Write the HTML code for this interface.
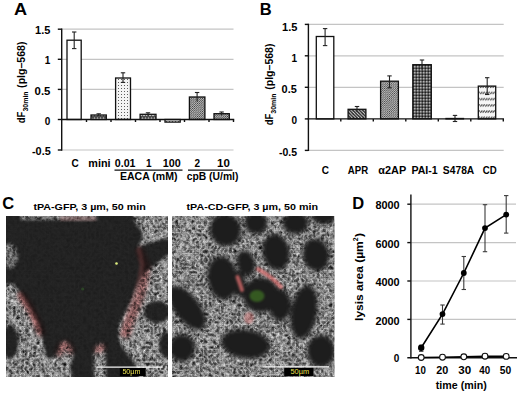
<!DOCTYPE html>
<html><head><meta charset="utf-8">
<style>
html,body{margin:0;padding:0;background:#fff;width:520px;height:394px;overflow:hidden}
svg{display:block;font-family:"Liberation Sans",sans-serif;font-weight:bold}
</style></head><body>
<svg width="520" height="394" viewBox="0 0 520 394">
<defs>
<pattern id="pDots" width="3" height="3" patternUnits="userSpaceOnUse">
<rect width="3" height="3" fill="#f4f4f4"/><rect x="1" y="1" width="1" height="1" fill="#5e5e5e"/>
</pattern>
<pattern id="pUp" width="2.15" height="2.15" patternUnits="userSpaceOnUse">
<rect width="2.15" height="2.15" fill="#f0f0f0"/><path d="M-0.5,2.65 L2.65,-0.5 M-1,1.1 L1.1,-1 M1.05,3.2 L3.2,1.05" stroke="#222" stroke-width="0.72"/>
</pattern>
<pattern id="pUpL" width="2.15" height="2.15" patternUnits="userSpaceOnUse">
<rect width="2.15" height="2.15" fill="#ededed"/><path d="M-0.5,2.65 L2.65,-0.5 M-1,1.1 L1.1,-1 M1.05,3.2 L3.2,1.05" stroke="#333" stroke-width="0.75"/>
</pattern>
<pattern id="pDown" width="3.3" height="3.3" patternUnits="userSpaceOnUse">
<rect width="3.3" height="3.3" fill="#1e1e1e"/><path d="M-0.5,-0.5 L3.8,3.8 M-1,2.3 L1,4.3 M2.3,-1 L4.3,1" stroke="#eee" stroke-width="0.9"/>
</pattern>
<pattern id="pGrid" width="3" height="3" patternUnits="userSpaceOnUse">
<rect width="3" height="3" fill="#555"/><rect x="0.2" y="0.2" width="1.2" height="1.2" fill="#e6e6e6"/><rect x="1.7" y="1.7" width="1.2" height="1.2" fill="#111"/>
</pattern>
<pattern id="pWave" y="3.85" width="2.5" height="6.2" patternUnits="userSpaceOnUse">
<rect width="2.5" height="6.2" fill="#f6f6f6"/><path d="M0.2,3.4 L2.2,1.3" stroke="#333" stroke-width="1.15" fill="none"/>
</pattern>
<pattern id="pZig" width="3" height="4.5" patternUnits="userSpaceOnUse">
<rect width="3" height="4.5" fill="#4a4a4a"/><path d="M0,3.2 L1.5,1.2 L3,3.2" stroke="#f0f0f0" stroke-width="1.1" fill="none"/>
</pattern>
</defs>
<rect width="520" height="394" fill="#fff"/>

<!-- ===== Panel A ===== -->
<text transform="translate(14.1,14.6) scale(1.1,1)" font-size="16.5">A</text>
<g stroke="#c4c4c4" stroke-width="1.2">
<line x1="62" y1="29.2" x2="233.5" y2="29.2"/>
<line x1="62" y1="59.3" x2="233.5" y2="59.3"/>
<line x1="62" y1="89.4" x2="233.5" y2="89.4"/>
<line x1="62" y1="150" x2="233.5" y2="150"/>
</g>
<g font-size="10" text-anchor="end">
<text x="35.13" y="33.8" text-anchor="start" textLength="15.30" lengthAdjust="spacingAndGlyphs">1.5</text>
<text x="44.79" y="63.9" text-anchor="start">1</text>
<text x="34.61" y="94.90" text-anchor="start" textLength="15.83" lengthAdjust="spacingAndGlyphs">0.5</text>
<text x="44.69" y="125.20" text-anchor="start">0</text>
<text x="31.97" y="155.40" text-anchor="start" textLength="18.76" lengthAdjust="spacingAndGlyphs">-0.5</text>
</g>
<!-- bars A -->
<g stroke="#111" stroke-width="1.3">
<rect x="67" y="40.2" width="14.2" height="79.3" fill="#fff"/>
<rect x="91" y="115" width="15.3" height="4.5" fill="url(#pZig)"/>
<rect x="115.6" y="78" width="14.9" height="41.5" fill="url(#pDots)"/>
<rect x="140.1" y="114.3" width="15.9" height="5.2" fill="url(#pZig)"/>
<rect x="165" y="119.5" width="15.2" height="2.6" fill="url(#pDots)"/>
<rect x="189.4" y="97" width="15.5" height="22.5" fill="url(#pUp)"/>
<rect x="214" y="113.7" width="15.3" height="5.8" fill="url(#pUp)"/>
</g>
<!-- error bars A -->
<g stroke="#222" stroke-width="1.1">
<line x1="74.2" y1="32" x2="74.2" y2="48.6"/><line x1="72" y1="32" x2="76.4" y2="32"/><line x1="72" y1="48.6" x2="76.4" y2="48.6"/>
<line x1="98.7" y1="113.8" x2="98.7" y2="116"/><line x1="96.5" y1="113.8" x2="100.9" y2="113.8"/>
<line x1="123" y1="72.8" x2="123" y2="82.4"/><line x1="120.8" y1="72.8" x2="125.2" y2="72.8"/><line x1="120.8" y1="82.4" x2="125.2" y2="82.4"/>
<line x1="148" y1="112.8" x2="148" y2="116"/><line x1="145.8" y1="112.8" x2="150.2" y2="112.8"/>
<line x1="197.1" y1="92.5" x2="197.1" y2="101.5"/><line x1="194.9" y1="92.5" x2="199.3" y2="92.5"/>
<line x1="221.6" y1="112" x2="221.6" y2="115.5"/><line x1="219.4" y1="112" x2="223.8" y2="112"/>
</g>
<!-- axes A -->
<g stroke="#111" stroke-width="1.4" fill="none">
<line x1="61.7" y1="28.5" x2="61.7" y2="150.7"/>
<line x1="57.8" y1="29.2" x2="61.7" y2="29.2"/>
<line x1="57.8" y1="59.3" x2="61.7" y2="59.3"/>
<line x1="57.8" y1="89.4" x2="61.7" y2="89.4"/>
<line x1="57.8" y1="119.5" x2="61.7" y2="119.5"/>
<line x1="57.8" y1="150" x2="61.7" y2="150"/>
<line x1="61" y1="119.5" x2="234.2" y2="119.5"/>
<path d="M86.5,119.5v2.5M111,119.5v2.5M135.5,119.5v2.5M160,119.5v2.5M184.5,119.5v2.5M209,119.5v2.5M233.5,119.5v2.5"/>
</g>
<g font-size="10">
<text x="71.40" y="166.5" text-anchor="start">C</text>
<text x="88.37" y="166.5" text-anchor="start" textLength="22.21" lengthAdjust="spacingAndGlyphs">mini</text>
<text x="114.75" y="166.5" text-anchor="start" textLength="20.75" lengthAdjust="spacingAndGlyphs">0.01</text>
<text x="146.05" y="166.5" text-anchor="start">1</text>
<text x="162.86" y="166.5" text-anchor="start" textLength="17.94" lengthAdjust="spacingAndGlyphs">100</text>
<text x="194.60" y="166.5" text-anchor="start">2</text>
<text x="217.10" y="166.5" text-anchor="start" textLength="12.79" lengthAdjust="spacingAndGlyphs">10</text>
<text x="119.95" y="179.5" text-anchor="start" textLength="57.61" lengthAdjust="spacingAndGlyphs">EACA (mM)</text>
<text x="186.70" y="179.5" text-anchor="start" textLength="51.70" lengthAdjust="spacingAndGlyphs">cpB (U/ml)</text>
</g>
<g stroke="#111" stroke-width="1.2">
<line x1="114.5" y1="170.2" x2="182.5" y2="170.2"/>
<line x1="188" y1="170.2" x2="232.5" y2="170.2"/>
</g>
<g transform="translate(24.8,0) rotate(-90)">
<text x="-123.3" y="0" font-size="10.9" textLength="11.6" lengthAdjust="spacingAndGlyphs">dF</text>
<text x="-111.6" y="3.2" font-size="7.6" textLength="20.2" lengthAdjust="spacingAndGlyphs">30min</text>
<text x="-87.9" y="0" font-size="10.9" textLength="46.4" lengthAdjust="spacingAndGlyphs">(plg–568)</text>
</g>

<!-- ===== Panel B ===== -->
<text x="259.8" y="14.6" font-size="16.5">B</text>
<g stroke="#c4c4c4" stroke-width="1.2">
<line x1="309" y1="24.4" x2="503.7" y2="24.4"/>
<line x1="309" y1="55.8" x2="503.7" y2="55.8"/>
<line x1="309" y1="87.3" x2="503.7" y2="87.3"/>
<line x1="309" y1="150.4" x2="503.7" y2="150.4"/>
</g>
<g font-size="10" text-anchor="end">
<text x="282.02" y="30.50" text-anchor="start" textLength="15.40" lengthAdjust="spacingAndGlyphs">1.5</text>
<text x="291.44" y="61.90" text-anchor="start">1</text>
<text x="281.63" y="92.7" text-anchor="start" textLength="15.19" lengthAdjust="spacingAndGlyphs">0.5</text>
<text x="291.39" y="124.2" text-anchor="start">0</text>
<text x="278.96" y="155.6" text-anchor="start" textLength="18.05" lengthAdjust="spacingAndGlyphs">-0.5</text>
</g>
<g stroke="#111" stroke-width="1.3">
<rect x="316.3" y="36.5" width="17.5" height="82.4" fill="#fff"/>
<rect x="348.1" y="109.3" width="17.8" height="9.6" fill="url(#pDown)"/>
<rect x="380.6" y="81.2" width="17.8" height="37.7" fill="url(#pUpL)"/>
<rect x="412.8" y="64.7" width="18.5" height="54.2" fill="url(#pGrid)"/>
<rect x="446" y="118.5" width="17.5" height="0.4" fill="#888"/>
<rect x="478.3" y="86.1" width="17.4" height="32.8" fill="url(#pWave)"/>
</g>
<g stroke="#222" stroke-width="1.1">
<line x1="325.1" y1="28.6" x2="325.1" y2="45.6"/><line x1="322.9" y1="28.6" x2="327.3" y2="28.6"/><line x1="322.9" y1="45.6" x2="327.3" y2="45.6"/>
<line x1="357" y1="106.5" x2="357" y2="112"/><line x1="354.8" y1="106.5" x2="359.2" y2="106.5"/>
<line x1="389.5" y1="75.9" x2="389.5" y2="87.8"/><line x1="387.3" y1="75.9" x2="391.7" y2="75.9"/><line x1="387.3" y1="87.8" x2="391.7" y2="87.8"/>
<line x1="422" y1="60" x2="422" y2="69.5"/><line x1="419.8" y1="60" x2="424.2" y2="60"/>
<line x1="455" y1="115.4" x2="455" y2="121.5"/><line x1="452.8" y1="115.4" x2="457.2" y2="115.4"/><line x1="452.8" y1="121.5" x2="457.2" y2="121.5"/>
<line x1="487.2" y1="77.7" x2="487.2" y2="94.5"/><line x1="485" y1="77.7" x2="489.4" y2="77.7"/><line x1="485" y1="94.5" x2="489.4" y2="94.5"/>
</g>
<g stroke="#111" stroke-width="1.4" fill="none">
<line x1="308.4" y1="23.7" x2="308.4" y2="151"/>
<line x1="304.8" y1="24.4" x2="308.4" y2="24.4"/>
<line x1="304.8" y1="55.8" x2="308.4" y2="55.8"/>
<line x1="304.8" y1="87.3" x2="308.4" y2="87.3"/>
<line x1="304.8" y1="118.9" x2="308.4" y2="118.9"/>
<line x1="304.8" y1="150.4" x2="308.4" y2="150.4"/>
<line x1="307.7" y1="118.9" x2="504" y2="118.9"/>
<path d="M340.8,118.9v2.5M373.3,118.9v2.5M405.8,118.9v2.5M438.3,118.9v2.5M470.8,118.9v2.5M503.3,118.9v2.5"/>
</g>
<g font-size="10">
<text x="321.70" y="173.9" text-anchor="start">C</text>
<text x="347.79" y="173.9" text-anchor="start" textLength="20.32" lengthAdjust="spacingAndGlyphs">APR</text>
<text x="378.30" y="173.9" text-anchor="start" textLength="27.90" lengthAdjust="spacingAndGlyphs">α2AP</text>
<text x="411.45" y="173.9" text-anchor="start" textLength="26.28" lengthAdjust="spacingAndGlyphs">PAI-1</text>
<text x="442.88" y="173.9" text-anchor="start" textLength="31.39" lengthAdjust="spacingAndGlyphs">S478A</text>
<text x="482.72" y="173.9" text-anchor="start" textLength="13.94" lengthAdjust="spacingAndGlyphs">CD</text>
</g>
<g transform="translate(272.6,0) rotate(-90)">
<text x="-125.3" y="0" font-size="10.9" textLength="11.6" lengthAdjust="spacingAndGlyphs">dF</text>
<text x="-113.7" y="3.2" font-size="7.6" textLength="20.2" lengthAdjust="spacingAndGlyphs">30min</text>
<text x="-89.8" y="0" font-size="10.9" textLength="46.3" lengthAdjust="spacingAndGlyphs">(plg–568)</text>
</g>

<!-- ===== Panel C ===== -->
<text x="2.3" y="208.5" font-size="16.5">C</text>
<text x="33.4" y="210.2" font-size="9.5" textLength="112.4" lengthAdjust="spacingAndGlyphs">tPA-GFP, 3 µm, 50 min</text>
<text x="186.5" y="210.2" font-size="9.5" textLength="131.5" lengthAdjust="spacingAndGlyphs">tPA-CD-GFP, 3 µm, 50 min</text>
<defs>
<filter id="nz" x="0" y="0" width="1" height="1" color-interpolation-filters="sRGB">
<feTurbulence type="fractalNoise" baseFrequency="0.3" numOctaves="2" seed="3" result="a"/>
<feColorMatrix in="a" type="matrix" values="1.3 0 0 0 -0.15  1.3 0 0 0 -0.15  1.3 0 0 0 -0.15  0 0 0 0 1" result="g1"/>
<feTurbulence type="turbulence" baseFrequency="0.24" numOctaves="2" seed="13" result="b"/>
<feColorMatrix in="b" type="matrix" values="-1.6 0 0 0 0.92  -1.6 0 0 0 0.92  -1.6 0 0 0 0.92  0 0 0 0 1" result="g2"/>
<feComposite in="g1" in2="g2" operator="arithmetic" k1="0" k2="0.5" k3="0.5" k4="0"/>
<feGaussianBlur stdDeviation="0.5"/>
</filter>
<filter id="nz2" x="0" y="0" width="1" height="1" color-interpolation-filters="sRGB">
<feTurbulence type="fractalNoise" baseFrequency="0.3" numOctaves="2" seed="7" result="a"/>
<feColorMatrix in="a" type="matrix" values="1.3 0 0 0 -0.15  1.3 0 0 0 -0.15  1.3 0 0 0 -0.15  0 0 0 0 1" result="g1"/>
<feTurbulence type="turbulence" baseFrequency="0.24" numOctaves="2" seed="17" result="b"/>
<feColorMatrix in="b" type="matrix" values="-1.6 0 0 0 0.92  -1.6 0 0 0 0.92  -1.6 0 0 0 0.92  0 0 0 0 1" result="g2"/>
<feComposite in="g1" in2="g2" operator="arithmetic" k1="0" k2="0.5" k3="0.5" k4="0"/>
<feGaussianBlur stdDeviation="0.5"/>
</filter>
<filter id="bl2" x="-20%" y="-20%" width="140%" height="140%"><feGaussianBlur stdDeviation="2.2"/></filter>
<filter id="bl1" x="-20%" y="-20%" width="140%" height="140%"><feGaussianBlur stdDeviation="1.2"/></filter>
<filter id="bl15" x="-20%" y="-20%" width="140%" height="140%"><feGaussianBlur stdDeviation="1.7"/></filter>
<clipPath id="cL"><rect x="6" y="216" width="162" height="161"/></clipPath>
<clipPath id="cR"><rect x="172" y="216" width="162.4" height="161"/></clipPath>
<mask id="mL" maskUnits="userSpaceOnUse" x="0" y="200" width="200" height="194">
<g fill="#fff" filter="url(#bl15)">
<polygon points="131.7,210 170,210 170,238.5 165.2,238.8 148.9,243 137.5,247.5 141.5,240.4 142.8,232.2 135.7,224.1"/>
<polygon points="170,254.5 165.2,256.8 155,264.5 143.5,274 135.8,289 128.7,306.8 125,312.5 118.9,324.8 118.9,341.3 127.1,353.6 135.3,363.9 139.4,380 170,380"/>
<polygon points="0,284 14,284 22,296 30,310 37,322 41,333 43.5,345 46,356 51,359.5 57,354 60.8,342.7 65.6,340.8 71.4,346.5 73.3,356.2 69.5,367.7 73.3,380 0,380"/>
<ellipse cx="9.5" cy="256" rx="8.5" ry="12.5" fill="#b0b0b0"/>
<polygon points="96,345 102,343 105.5,350 106,380 94,380 93.5,355"/>
<rect x="20" y="210" width="77" height="10" fill="#c4c4c4"/>
</g>
<g fill="#000" filter="url(#bl15)">
<ellipse cx="157" cy="312" rx="13" ry="11"/>
<ellipse cx="167" cy="345" rx="8" ry="13"/>
<ellipse cx="10" cy="342" rx="8.5" ry="16.5"/>
</g>
</mask>
<mask id="mR" maskUnits="userSpaceOnUse" x="160" y="200" width="200" height="194">
<rect x="160" y="200" width="200" height="194" fill="#fff"/>
<g fill="#000" filter="url(#bl2)">
<ellipse cx="225.5" cy="230" rx="15.5" ry="16.5" transform="rotate(-25 225.5 230)"/>
<ellipse cx="256" cy="223" rx="11.5" ry="11"/>
<ellipse cx="295.5" cy="223" rx="13" ry="11"/>
<ellipse cx="324" cy="216" rx="12" ry="8.5"/>
<ellipse cx="276" cy="252" rx="13.5" ry="18.5" transform="rotate(-12 276 252)"/>
<ellipse cx="316" cy="255" rx="13.3" ry="16.5" transform="rotate(-10 316 255)"/>
<ellipse cx="222.5" cy="278" rx="15" ry="22" transform="rotate(-8 222.5 278)"/>
<ellipse cx="246" cy="263" rx="9" ry="13" transform="rotate(-15 246 263)"/>
<ellipse cx="261" cy="295" rx="18.5" ry="17.5"/>
<ellipse cx="280" cy="305" rx="11" ry="16"/>
<ellipse cx="239.5" cy="284" rx="6" ry="13"/>
<ellipse cx="304" cy="312" rx="13" ry="27" transform="rotate(10 304 312)"/>
<ellipse cx="187" cy="308" rx="26" ry="12.5" transform="rotate(52 187 308)"/>
<ellipse cx="182" cy="348" rx="13" ry="13.5"/>
<ellipse cx="245.5" cy="344" rx="24.5" ry="14.5" transform="rotate(8 245.5 344)"/>
<ellipse cx="321" cy="351" rx="14" ry="16"/>
</g>
</mask>
</defs>
<g clip-path="url(#cL)">
<rect x="6" y="216" width="162" height="161" fill="#1d1d1d"/>
<g mask="url(#mL)"><rect x="6" y="216" width="162" height="161" filter="url(#nz)"/></g>
<rect x="6" y="216" width="162" height="161" filter="url(#nz)" opacity="0.05"/>
<rect x="60" y="216" width="36" height="5" fill="#c08080" opacity="0.3" filter="url(#bl1)"/>
<g fill="none" stroke="#f2a4a4" stroke-width="9" stroke-linecap="round" stroke-linejoin="round" filter="url(#bl2)" style="mix-blend-mode:multiply">
<polyline points="140,251 146,266 144,281 140,296 135,309 130,321 126,334"/>
<polyline points="22,296 30,308 36,320 41,332"/>
<polyline points="59,352 62,345 67,344 71,350"/>
<polyline points="97,349 103,347"/>
</g>
<g fill="none" stroke="#c86a6a" stroke-opacity="0.22" stroke-width="5" stroke-linecap="round" filter="url(#bl1)">
<polyline points="139,250 142,264 140,278 136,292 131,306 126,320 122,334"/>
<polyline points="20,294 28,306 35,318 39,330"/>
</g>
<circle cx="116.5" cy="263.5" r="1.3" fill="#e0f080"/>
<circle cx="82.7" cy="289" r="1.6" fill="#2c4426"/>
<line x1="96.4" y1="367.2" x2="162.7" y2="367.2" stroke="#f4f4f4" stroke-width="1.3"/>
<rect x="119.8" y="368" width="25.9" height="8" fill="#000"/>
<text x="122.4" y="373.8" font-size="6.5" font-weight="normal" fill="#e8e050" textLength="18" lengthAdjust="spacingAndGlyphs">50µm</text>
</g>
<g clip-path="url(#cR)">
<rect x="172" y="216" width="162.4" height="161" fill="#1d1d1d"/>
<g mask="url(#mR)"><rect x="172" y="216" width="162.4" height="161" filter="url(#nz2)"/></g>
<g fill="none" stroke="#e07070" stroke-opacity="0.75" stroke-width="4" stroke-linecap="round" filter="url(#bl1)">
<polyline points="237.5,277 240,284 242,290"/>
<polyline points="258,269 266,274 274,280 281,287"/>
</g>
<g fill="#c87070" opacity="0.55" filter="url(#bl1)">
<ellipse cx="249" cy="318" rx="5" ry="6"/>
</g>
<ellipse cx="257" cy="296" rx="7.5" ry="6" fill="#4a8a28" opacity="0.55" filter="url(#bl1)"/>
<line x1="262.4" y1="366.8" x2="329" y2="366.8" stroke="#f4f4f4" stroke-width="1.3"/>
<rect x="284.2" y="367.8" width="29.2" height="8.2" fill="#000"/>
<text x="290.5" y="373.8" font-size="6.5" font-weight="normal" fill="#e8e050" textLength="18.7" lengthAdjust="spacingAndGlyphs">50µm</text>
</g>

<!-- ===== Panel D ===== -->
<text x="352.3" y="208.5" font-size="16.5">D</text>
<g stroke="#c4c4c4" stroke-width="1.2">
<line x1="411" y1="204.2" x2="516" y2="204.2"/>
<line x1="411" y1="242.6" x2="516" y2="242.6"/>
<line x1="411" y1="281" x2="516" y2="281"/>
<line x1="411" y1="319.4" x2="516" y2="319.4"/>
</g>
<g font-size="10" text-anchor="end">
<text x="399.6" y="209.3" textLength="24.2" lengthAdjust="spacingAndGlyphs">8000</text>
<text x="399.6" y="247.7" textLength="24.2" lengthAdjust="spacingAndGlyphs">6000</text>
<text x="399.6" y="286.1" textLength="24.2" lengthAdjust="spacingAndGlyphs">4000</text>
<text x="399.6" y="324.5" textLength="24.2" lengthAdjust="spacingAndGlyphs">2000</text>
<text x="393.69" y="362.3" text-anchor="start">0</text>
</g>
<g stroke="#111" stroke-width="1.4" fill="none">
<line x1="410.9" y1="194.6" x2="410.9" y2="358.5"/>
<line x1="407.3" y1="204.2" x2="410.9" y2="204.2"/>
<line x1="407.3" y1="242.6" x2="410.9" y2="242.6"/>
<line x1="407.3" y1="281" x2="410.9" y2="281"/>
<line x1="407.3" y1="319.4" x2="410.9" y2="319.4"/>
<line x1="407.3" y1="357.8" x2="517" y2="357.8"/>
</g>
<g stroke="#3a3a3a" stroke-width="1.1">
<line x1="421.2" y1="345.3" x2="421.2" y2="351.3"/><line x1="419.0" y1="345.3" x2="423.4" y2="345.3"/><line x1="419.0" y1="351.3" x2="423.4" y2="351.3"/>
<line x1="442.5" y1="305" x2="442.5" y2="324.1"/><line x1="440.3" y1="305" x2="444.7" y2="305"/><line x1="440.3" y1="324.1" x2="444.7" y2="324.1"/>
<line x1="463.8" y1="256.5" x2="463.8" y2="289.5"/><line x1="461.6" y1="256.5" x2="466.0" y2="256.5"/><line x1="461.6" y1="289.5" x2="466.0" y2="289.5"/>
<line x1="485.0" y1="204.7" x2="485.0" y2="251.7"/><line x1="482.8" y1="204.7" x2="487.2" y2="204.7"/><line x1="482.8" y1="251.7" x2="487.2" y2="251.7"/>
<line x1="506.2" y1="195.6" x2="506.2" y2="233.1"/><line x1="504.0" y1="195.6" x2="508.4" y2="195.6"/><line x1="504.0" y1="233.1" x2="508.4" y2="233.1"/>
</g>
<polyline points="421.2,347.8 442.5,314.1 463.8,273 485.0,228.1 506.2,214.6" fill="none" stroke="#000" stroke-width="1.6"/>
<g fill="#000">
<circle cx="421.2" cy="347.8" r="3.2"/><circle cx="442.5" cy="314.1" r="2.9"/><circle cx="463.8" cy="273" r="2.9"/><circle cx="485.0" cy="228.1" r="2.9"/><circle cx="506.2" cy="214.6" r="2.9"/>
</g>
<polyline points="421.2,357.5 442.5,357.2 463.8,356.8 485.0,356.2 506.2,356.4" fill="none" stroke="#000" stroke-width="1.6"/>
<g fill="#fff" stroke="#111" stroke-width="1.1">
<circle cx="421.2" cy="357.5" r="2.9"/><circle cx="442.5" cy="357.2" r="2.9"/><circle cx="463.8" cy="356.8" r="2.9"/><circle cx="485.0" cy="356.2" r="2.9"/><circle cx="506.2" cy="356.4" r="2.9"/>
</g>
<g font-size="10">
<text x="415.00" y="374" text-anchor="start" textLength="10.82" lengthAdjust="spacingAndGlyphs">10</text>
<text x="436.22" y="374" text-anchor="start" textLength="12.04" lengthAdjust="spacingAndGlyphs">20</text>
<text x="458.30" y="374" text-anchor="start" textLength="12.91" lengthAdjust="spacingAndGlyphs">30</text>
<text x="479.29" y="374" text-anchor="start" textLength="10.85" lengthAdjust="spacingAndGlyphs">40</text>
<text x="499.69" y="374" text-anchor="start" textLength="11.43" lengthAdjust="spacingAndGlyphs">50</text>
<text x="435.8" y="388.6" textLength="51" lengthAdjust="spacingAndGlyphs">time (min)</text>
</g>
<g transform="translate(362.8,0) rotate(-90)" font-size="11.6">
<text x="-320.9" y="0" textLength="79.6" lengthAdjust="spacingAndGlyphs">lysis area (µm</text>
<text x="-241.2" y="-4.6" font-size="7">2</text>
<text x="-237.1" y="0" textLength="4" lengthAdjust="spacingAndGlyphs">)</text>
</g>
</svg>
</body></html>
